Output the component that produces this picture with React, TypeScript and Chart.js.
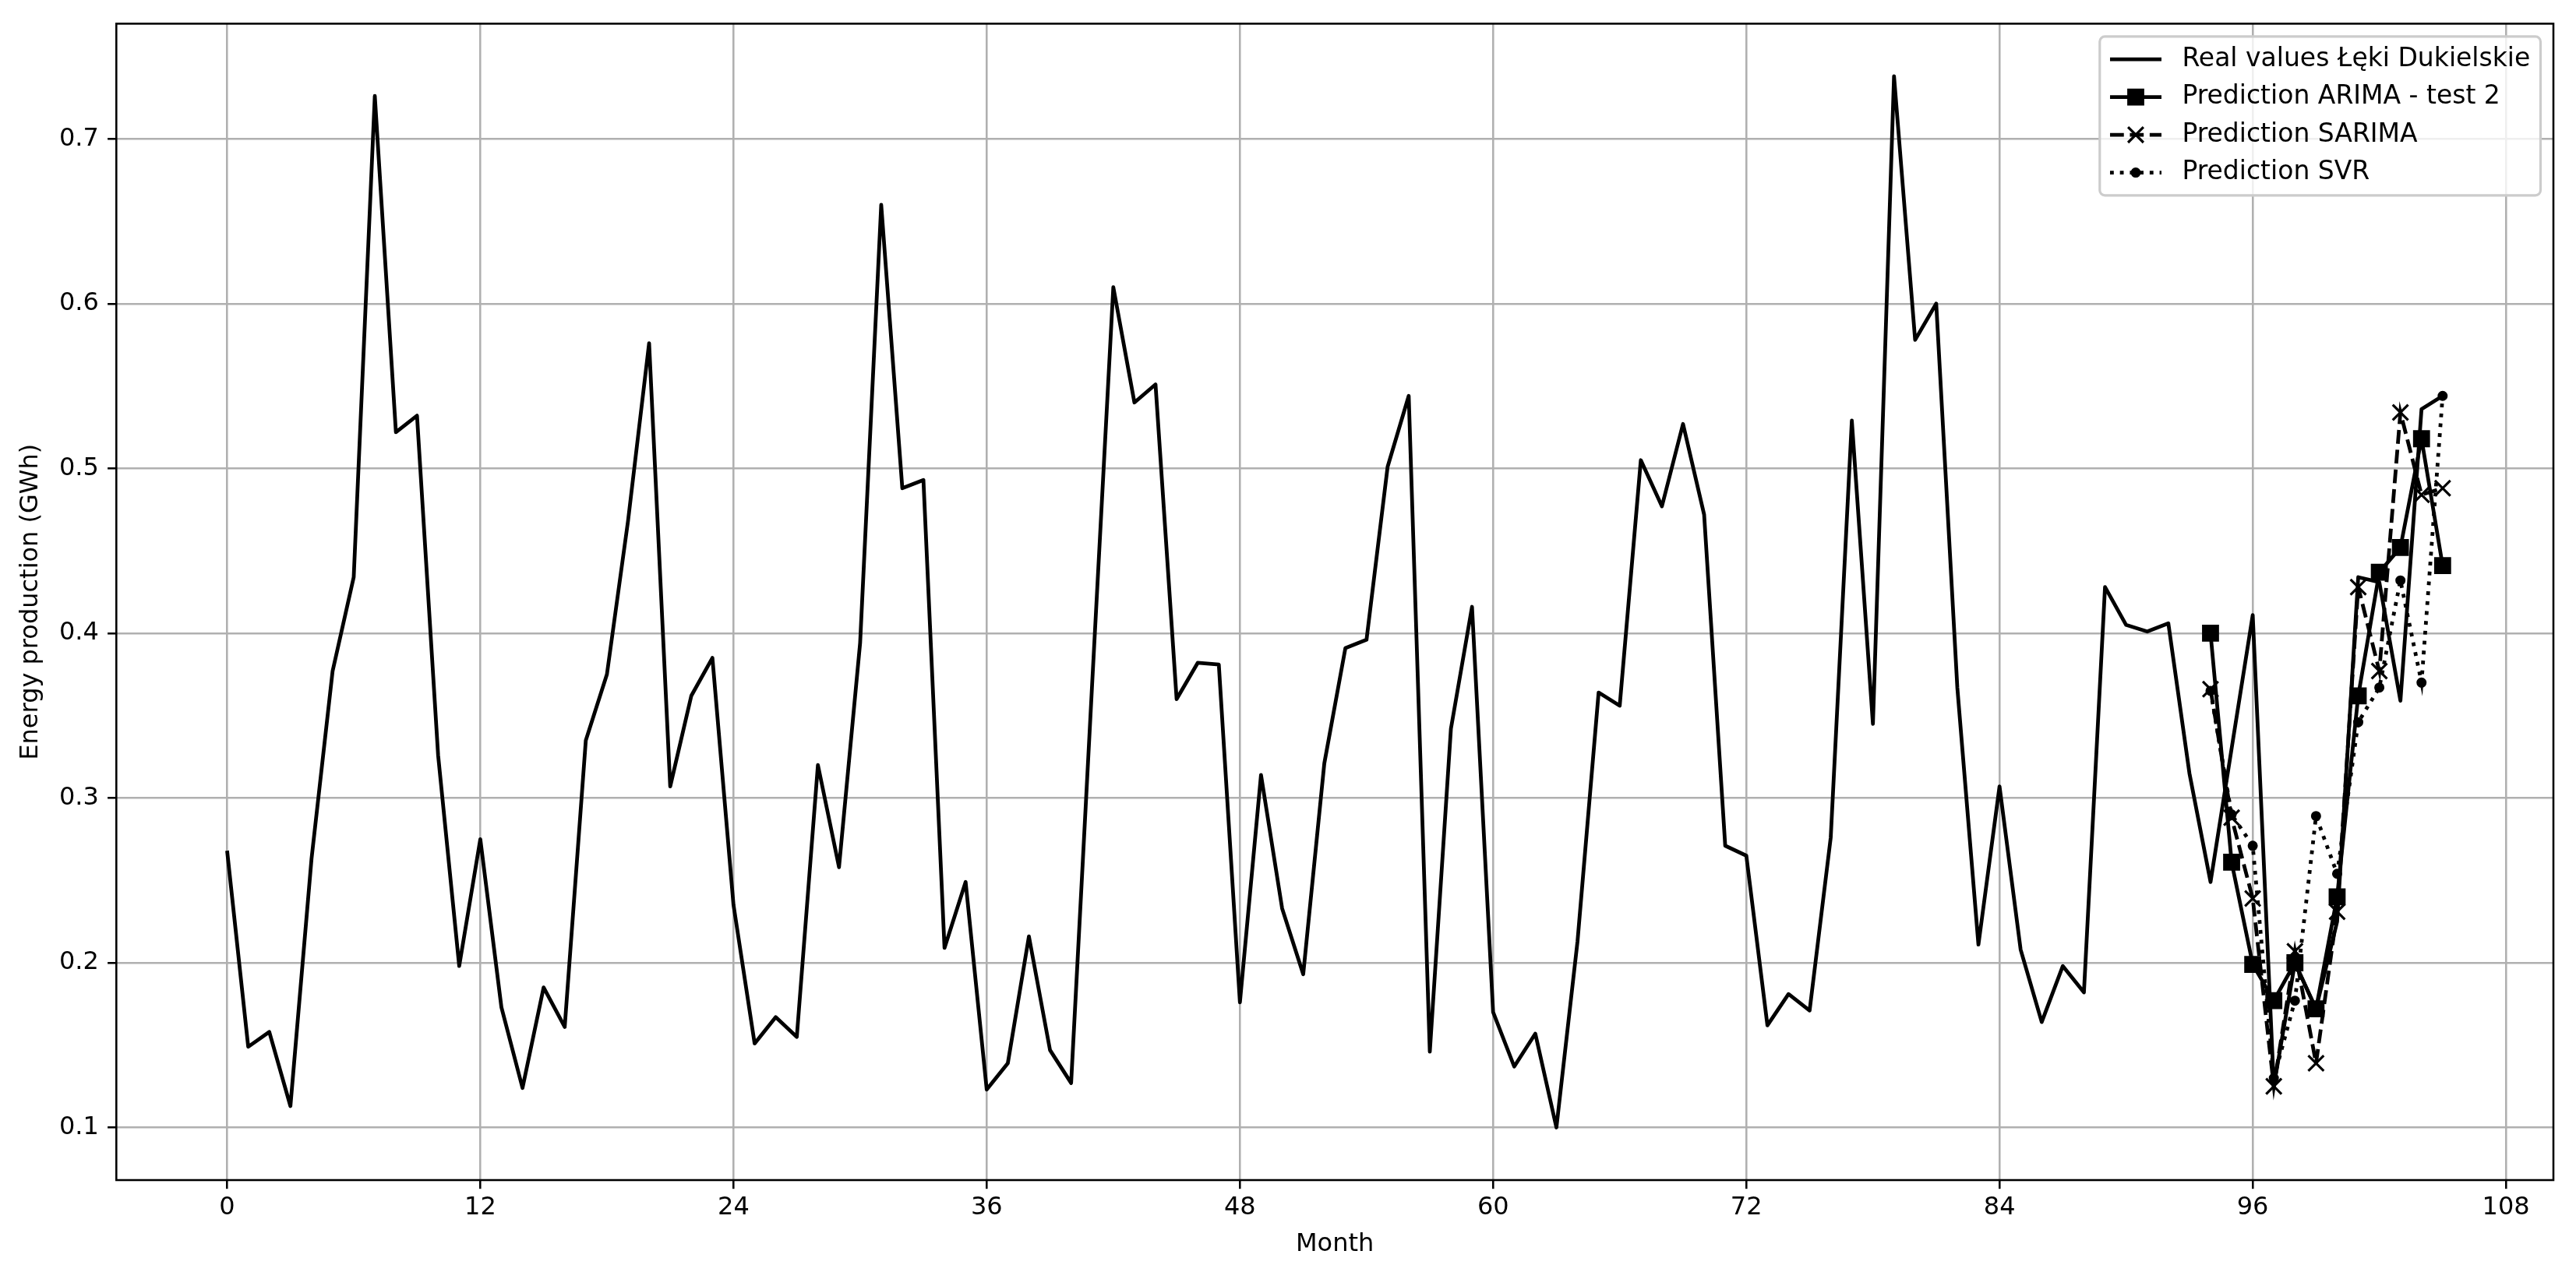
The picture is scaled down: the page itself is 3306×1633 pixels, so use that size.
import React, { useEffect, useRef } from "react";
import { Chart, registerables } from "chart.js";

Chart.register(...registerables);

// ---------- data ----------
// Real monthly values, month index = position in the array (0..105)
const realValues = [
  0.268, 0.149, 0.158, 0.113, 0.263, 0.377, 0.434, 0.726, 0.522, 0.532, 0.326, 0.198,
  0.275, 0.173, 0.124, 0.185, 0.161, 0.335, 0.375, 0.468, 0.576, 0.307, 0.362, 0.385,
  0.235, 0.151, 0.167, 0.155, 0.320, 0.258, 0.394, 0.660, 0.488, 0.493, 0.209, 0.249,
  0.123, 0.139, 0.216, 0.147, 0.127, 0.370, 0.610, 0.540, 0.551, 0.360, 0.382, 0.381,
  0.176, 0.314, 0.233, 0.193, 0.321, 0.391, 0.396, 0.501, 0.544, 0.146, 0.342, 0.416,
  0.170, 0.137, 0.157, 0.100, 0.213, 0.364, 0.356, 0.505, 0.477, 0.527, 0.472, 0.271,
  0.265, 0.162, 0.181, 0.171, 0.276, 0.529, 0.345, 0.738, 0.578, 0.600, 0.367, 0.211,
  0.307, 0.208, 0.164, 0.198, 0.182, 0.428, 0.405, 0.401, 0.406, 0.315, 0.249, 0.330,
  0.411, 0.125, 0.200, 0.172, 0.225, 0.434, 0.431, 0.359, 0.536, 0.544,
];

const predMonths = [94, 95, 96, 97, 98, 99, 100, 101, 102, 103, 104, 105];
const arimaValues = [0.400, 0.261, 0.199, 0.177, 0.200, 0.172, 0.240, 0.362, 0.437, 0.452, 0.518, 0.441];
const sarimaValues = [0.366, 0.288, 0.239, 0.125, 0.207, 0.139, 0.231, 0.428, 0.377, 0.534, 0.484, 0.488];
const svrValues = [0.365, 0.290, 0.271, 0.130, 0.177, 0.289, 0.254, 0.346, 0.367, 0.432, 0.370, 0.544];

const xTickValues = [0, 12, 24, 36, 48, 60, 72, 84, 96, 108];
const yTickValues = [0.1, 0.2, 0.3, 0.4, 0.5, 0.6, 0.7];

const legendLabels = [
  "Real values Łęki Dukielskie",
  "Prediction ARIMA - test 2",
  "Prediction SARIMA",
  "Prediction SVR",
];

// ---------- style ----------
const FONT = '"DejaVu Sans", "Noto Sans", sans-serif';
const FS = 32;
const LFS = 33;
const PT = 3.2; // px per point
const LW = 1.5 * PT;
const DASH = [3.7 * 1.5 * PT, 1.6 * 1.5 * PT];
const DOT = [1 * 1.5 * PT, 1.65 * 1.5 * PT];

const framePlugin = {
  id: "frame",
  afterDatasetsDraw(chart: any) {
    const { ctx, chartArea } = chart;
    const { left, top, right, bottom } = chartArea;
    ctx.save();
    ctx.strokeStyle = "#000";
    ctx.lineWidth = 0.8 * PT;
    ctx.strokeRect(left, top, right - left, bottom - top);
    ctx.restore();
  },
};

function drawMarker(ctx: CanvasRenderingContext2D, kind: string, x: number, y: number) {
  ctx.save();
  ctx.setLineDash([]);
  ctx.fillStyle = "#000";
  ctx.strokeStyle = "#000";
  if (kind === "rect") {
    const s = 19.8;
    ctx.lineWidth = 2;
    ctx.beginPath();
    ctx.rect(x - s / 2, y - s / 2, s, s);
    ctx.fill();
    ctx.stroke();
  } else if (kind === "cross") {
    const h = 14 * Math.SQRT1_2;
    ctx.lineWidth = PT;
    ctx.beginPath();
    ctx.moveTo(x - h, y - h);
    ctx.lineTo(x + h, y + h);
    ctx.moveTo(x - h, y + h);
    ctx.lineTo(x + h, y - h);
    ctx.stroke();
  } else if (kind === "dot") {
    ctx.lineWidth = 3;
    ctx.beginPath();
    ctx.arc(x, y, 5, 0, Math.PI * 2);
    ctx.fill();
    ctx.stroke();
  }
  ctx.restore();
}

const legendPlugin = {
  id: "mplLegend",
  afterDraw(chart: any) {
    const { ctx, chartArea } = chart;
    ctx.save();
    ctx.font = `${LFS}px ${FONT}`;
    const textW = Math.max(...legendLabels.map((t) => ctx.measureText(t).width));
    const pad = 0.4 * LFS;
    const handleLen = 2 * LFS;
    const handleGap = 0.8 * LFS;
    const rowH = 32;
    const rowGap = 0.5 * LFS;
    const boxW = 2 * pad + handleLen + handleGap + textW;
    const boxH = 2 * pad + legendLabels.length * rowH + (legendLabels.length - 1) * rowGap;
    const right = chartArea.right - 0.5 * LFS;
    const top = chartArea.top + 0.5 * LFS;
    const left = right - boxW;
    const r = 0.2 * LFS;

    ctx.beginPath();
    ctx.moveTo(left + r, top);
    ctx.lineTo(left + boxW - r, top);
    ctx.arcTo(left + boxW, top, left + boxW, top + r, r);
    ctx.lineTo(left + boxW, top + boxH - r);
    ctx.arcTo(left + boxW, top + boxH, left + boxW - r, top + boxH, r);
    ctx.lineTo(left + r, top + boxH);
    ctx.arcTo(left, top + boxH, left, top + boxH - r, r);
    ctx.lineTo(left, top + r);
    ctx.arcTo(left, top, left + r, top, r);
    ctx.closePath();
    ctx.fillStyle = "rgba(255,255,255,0.8)";
    ctx.fill();
    ctx.strokeStyle = "#cccccc";
    ctx.lineWidth = PT;
    ctx.stroke();

    const styles = [
      { dash: [] as number[], marker: "" },
      { dash: [] as number[], marker: "rect" },
      { dash: DASH, marker: "cross" },
      { dash: DOT, marker: "dot" },
    ];
    legendLabels.forEach((label, i) => {
      const cy = top + pad + rowH / 2 + i * (rowH + rowGap);
      const hx0 = left + pad;
      ctx.save();
      ctx.strokeStyle = "#000";
      ctx.lineWidth = LW;
      ctx.lineCap = "butt";
      ctx.setLineDash(styles[i].dash);
      ctx.beginPath();
      ctx.moveTo(hx0, cy);
      ctx.lineTo(hx0 + handleLen, cy);
      ctx.stroke();
      ctx.restore();
      if (styles[i].marker) drawMarker(ctx, styles[i].marker, hx0 + handleLen / 2, cy);
      ctx.fillStyle = "#000";
      ctx.textAlign = "left";
      ctx.textBaseline = "middle";
      ctx.font = `${LFS}px ${FONT}`;
      ctx.fillText(label, hx0 + handleLen + handleGap, cy);
    });
    ctx.restore();
  },
};

export default function App() {
  const canvasRef = useRef<HTMLCanvasElement | null>(null);

  useEffect(() => {
    const canvas = canvasRef.current;
    if (!canvas) return;

    const realData = realValues.map((v, i) => ({ x: i, y: v }));
    const arimaData = predMonths.map((m, i) => ({ x: m, y: arimaValues[i] }));
    const sarimaData = predMonths.map((m, i) => ({ x: m, y: sarimaValues[i] }));
    const svrData = predMonths.map((m, i) => ({ x: m, y: svrValues[i] }));

    const tickFont = { family: FONT, size: FS };

    const chart = new Chart(canvas, {
      type: "line",
      data: {
        datasets: [
          {
            label: legendLabels[0],
            data: realData,
            borderColor: "#000",
            backgroundColor: "#000",
            borderWidth: LW,
            pointRadius: 0,
            tension: 0,
            fill: false,
            order: 4,
            borderJoinStyle: "round",
          },
          {
            label: legendLabels[1],
            data: arimaData,
            borderColor: "#000",
            backgroundColor: "#000",
            borderWidth: LW,
            pointStyle: "rect",
            pointRadius: 14,
            pointBorderWidth: 2,
            pointBackgroundColor: "#000",
            pointBorderColor: "#000",
            tension: 0,
            fill: false,
            order: 3,
            borderJoinStyle: "round",
          },
          {
            label: legendLabels[2],
            data: sarimaData,
            borderColor: "#000",
            backgroundColor: "#000",
            borderWidth: LW,
            borderDash: DASH,
            pointStyle: "crossRot",
            pointRadius: 14,
            pointBorderWidth: PT,
            pointBorderColor: "#000",
            tension: 0,
            fill: false,
            order: 2,
          },
          {
            label: legendLabels[3],
            data: svrData,
            borderColor: "#000",
            backgroundColor: "#000",
            borderWidth: LW,
            borderDash: DOT,
            pointStyle: "circle",
            pointRadius: 5,
            pointBorderWidth: 3,
            pointBackgroundColor: "#000",
            pointBorderColor: "#000",
            tension: 0,
            fill: false,
            order: 1,
          },
        ],
      },
      options: {
        responsive: false,
        maintainAspectRatio: false,
        devicePixelRatio: 1,
        animation: false,
        layout: { padding: { top: 29, right: 29, left: 0, bottom: 0 } },
        plugins: {
          legend: { display: false },
          tooltip: { enabled: false },
        },
        scales: {
          x: {
            type: "linear",
            min: -5.25,
            max: 110.25,
            afterBuildTicks: (s: any) => {
              s.ticks = xTickValues.map((value) => ({ value }));
            },
            afterFit: (s: any) => {
              s.height = 118;
            },
            ticks: {
              font: tickFont,
              color: "#000",
              padding: 5,
              maxRotation: 0,
              autoSkip: false,
              callback: (v: any) => String(v),
            },
            grid: {
              color: "#b0b0b0",
              lineWidth: 0.8 * PT,
              tickColor: "#000",
              tickWidth: 0.8 * PT,
              tickLength: 3.5 * PT,
              drawTicks: true,
            },
            border: { display: false },
            title: {
              display: true,
              text: "Month",
              color: "#000",
              font: tickFont,
              padding: { top: 0, bottom: 16 },
            },
          },
          y: {
            type: "linear",
            min: 0.0681,
            max: 0.7699,
            afterBuildTicks: (s: any) => {
              s.ticks = yTickValues.map((value) => ({ value }));
            },
            afterFit: (s: any) => {
              s.width = 149.3;
            },
            ticks: {
              font: tickFont,
              color: "#000",
              padding: 3.5 * PT,
              autoSkip: false,
              callback: (v: any) => Number(v).toFixed(1),
            },
            grid: {
              color: "#b0b0b0",
              lineWidth: 0.8 * PT,
              tickColor: "#000",
              tickWidth: 0.8 * PT,
              tickLength: 3.5 * PT,
              drawTicks: true,
            },
            border: { display: false },
            title: {
              display: true,
              text: "Energy production (GWh)",
              color: "#000",
              font: tickFont,
              padding: { top: 20, bottom: 0 },
            },
          },
        },
      },
      plugins: [framePlugin, legendPlugin],
    } as any);

    return () => {
      chart.destroy();
    };
  }, []);

  return (
    <div style={{ position: "absolute", left: 0, top: 0, width: 3306, height: 1633, background: "#fff" }}>
      <canvas ref={canvasRef} width={3306} height={1633} style={{ display: "block", width: 3306, height: 1633 }} />
    </div>
  );
}
